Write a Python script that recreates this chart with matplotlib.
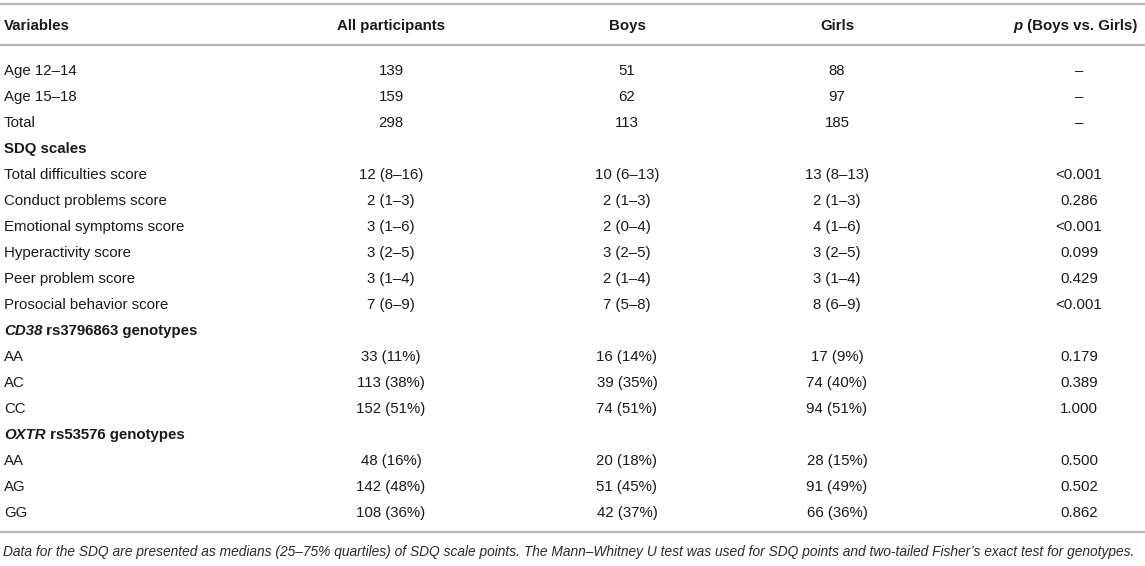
import matplotlib
matplotlib.use("Agg")
import matplotlib.pyplot as plt

# ---- data ----
header = ["Variables", "All participants", "Boys", "Girls", "p (Boys vs. Girls)"]
row_labels = ["Age 12\u201314", "Age 15\u201318", "Total",
              "SDQ scales",
              "Total difficulties score", "Conduct problems score", "Emotional symptoms score",
              "Hyperactivity score", "Peer problem score", "Prosocial behavior score",
              "CD38 rs3796863 genotypes", "AA", "AC", "CC",
              "OXTR rs53576 genotypes", "AA", "AG", "GG"]
all_participants = ["139", "159", "298", "",
                    "12 (8\u201316)", "2 (1\u20133)", "3 (1\u20136)", "3 (2\u20135)", "3 (1\u20134)", "7 (6\u20139)",
                    "", "33 (11%)", "113 (38%)", "152 (51%)",
                    "", "48 (16%)", "142 (48%)", "108 (36%)"]
boys = ["51", "62", "113", "",
        "10 (6\u201313)", "2 (1\u20133)", "2 (0\u20134)", "3 (2\u20135)", "2 (1\u20134)", "7 (5\u20138)",
        "", "16 (14%)", "39 (35%)", "74 (51%)",
        "", "20 (18%)", "51 (45%)", "42 (37%)"]
girls = ["88", "97", "185", "",
         "13 (8\u201313)", "2 (1\u20133)", "4 (1\u20136)", "3 (2\u20135)", "3 (1\u20134)", "8 (6\u20139)",
         "", "17 (9%)", "74 (40%)", "94 (51%)",
         "", "28 (15%)", "91 (49%)", "66 (36%)"]
p_values = ["\u2013", "\u2013", "\u2013", "",
            "<0.001", "0.286", "<0.001", "0.099", "0.429", "<0.001",
            "", "0.179", "0.389", "1.000",
            "", "0.500", "0.502", "0.862"]
section_rows = {3: ("", "SDQ scales"), 10: ("CD38", " rs3796863 genotypes"),
                14: ("OXTR", " rs53576 genotypes")}
footnote = ("Data for the SDQ are presented as medians (25\u201375% quartiles) of SDQ scale points. "
            "The Mann\u2013Whitney U test was used for SDQ points and two-tailed Fisher\u2019s exact test for genotypes.")

# ---- layout ----
W, H = 1145, 566
plt.rcParams['font.family'] = ['Liberation Sans', 'DejaVu Sans']
fig = plt.figure(figsize=(W / 100, H / 100), dpi=100)
ax = fig.add_axes([0, 0, 1, 1])
ax.set_xlim(0, W)
ax.set_ylim(H, 0)
ax.axis("off")

TXT = "#1a1a1a"
LINE = "#b5b5b5"
FS = 10.8
FSH = 10.8
x_label = 4
col_x = [391, 627, 837, 1079]
p_right = 1137
y_header = 25
y_first = 70
step = 26.0
BASE = 4.8  # offset centre -> baseline

for y in (4, 45, 532):
    ax.plot([0, W], [y, y], color=LINE, lw=1.6, solid_capstyle="butt")

fig.canvas.draw()
rend = fig.canvas.get_renderer()

# header
ax.text(x_label, y_header + BASE, header[0], fontsize=FSH, fontweight="bold", color=TXT,
        ha="left", va="baseline")
for cx, h in zip(col_x[:3], header[1:4]):
    ax.text(cx, y_header + BASE, h, fontsize=FSH, fontweight="bold", color=TXT,
            ha="center", va="baseline")
p1 = ax.text(0, y_header + BASE, "p", fontsize=FSH, fontweight="bold", fontstyle="italic",
             color=TXT, ha="left", va="baseline")
p2 = ax.text(p_right, y_header + BASE, " (Boys vs. Girls)", fontsize=FSH, fontweight="bold",
             color=TXT, ha="right", va="baseline")
w2 = p2.get_window_extent(rend).width
w1 = p1.get_window_extent(rend).width
p1.set_x(p_right - w2 - w1)

for i, lab in enumerate(row_labels):
    y = y_first + i * step
    if i in section_rows:
        it, rest = section_rows[i]
        xx = x_label
        if it:
            t = ax.text(xx, y + BASE, it, fontsize=FS, fontweight="bold", fontstyle="italic",
                        color=TXT, ha="left", va="baseline")
            xx += t.get_window_extent(rend).width
        ax.text(xx, y + BASE, rest, fontsize=FS, fontweight="bold", color=TXT,
                ha="left", va="baseline")
        continue
    ax.text(x_label, y + BASE, lab, fontsize=FS, color=TXT, ha="left", va="baseline")
    for cx, col in zip(col_x, (all_participants, boys, girls, p_values)):
        ax.text(cx, y + BASE, col[i], fontsize=FS, color=TXT, ha="center", va="baseline")

ax.text(3, 552, footnote, fontsize=9.9, fontstyle="italic", color="#2a2a2a",
        ha="left", va="center")

fig.savefig("out.png", dpi=100, facecolor="white")
